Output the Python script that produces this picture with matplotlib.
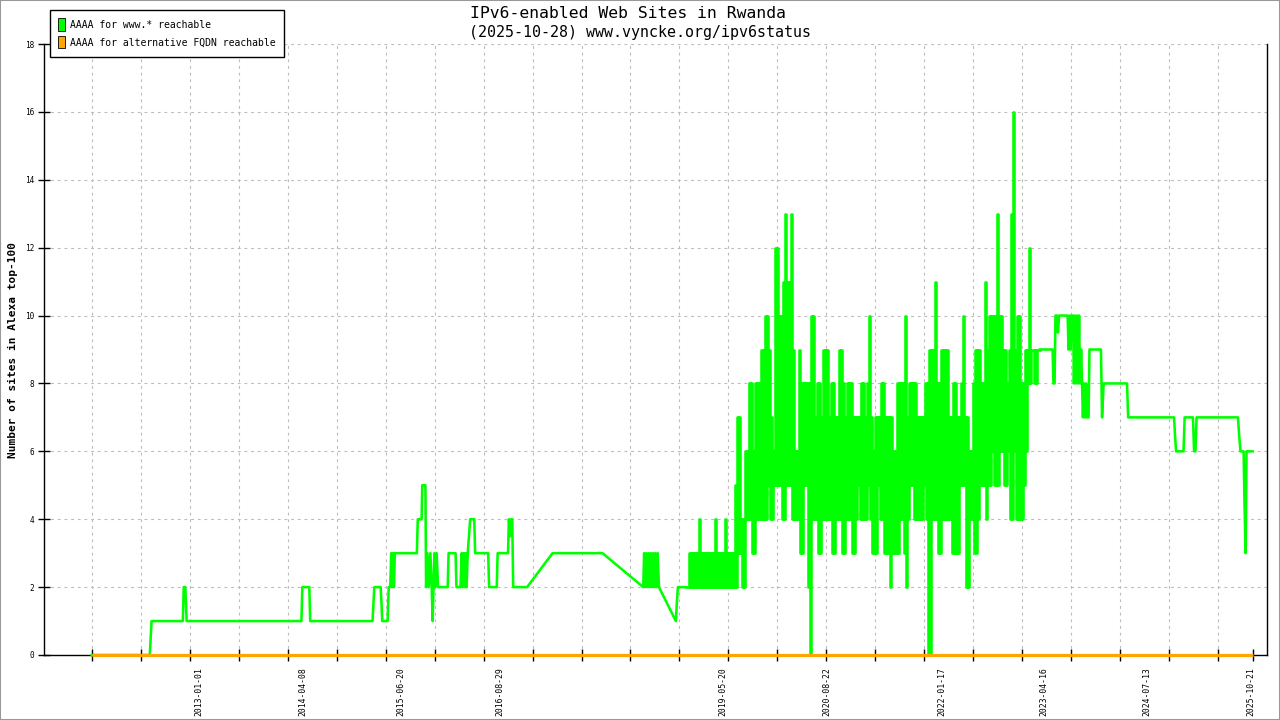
import matplotlib
matplotlib.use("Agg")
import matplotlib.pyplot as plt
import matplotlib.patches as mpatches
import pandas as pd
import numpy as np

plt.rcParams['font.family'] = ['DejaVu Sans Mono']

TITLE1 = "IPv6-enabled Web Sites in Rwanda"
TITLE2 = "(2025-10-28) www.vyncke.org/ipv6status"
YLABEL = "Number of sites in Alexa top-100"
LEGEND_LABELS = ["AAAA for www.* reachable", "AAAA for alternative FQDN reachable"]

# --- green series, early sparse part (date, value)
early_dates = ["2011-09-13", "2012-05-28", "2012-06-01", "2012-06-05", "2012-10-22", "2012-10-26",
               "2012-11-02", "2012-11-05", "2012-11-08", "2014-04-02", "2014-04-06", "2014-05-07",
               "2014-05-11", "2015-02-12", "2015-02-16", "2015-02-20", "2015-03-20", "2015-03-24",
               "2015-03-27", "2015-04-20", "2015-04-25", "2015-05-02", "2015-05-06", "2015-05-10",
               "2015-05-14", "2015-05-18", "2015-05-22", "2015-08-28", "2015-09-01", "2015-09-18",
               "2015-09-21", "2015-10-05", "2015-10-08", "2015-10-14", "2015-10-20", "2015-10-27",
               "2015-11-02", "2015-11-06", "2015-11-10", "2015-11-14", "2015-11-18", "2015-11-24",
               "2015-11-30", "2016-01-12", "2016-01-16", "2016-02-16", "2016-02-20", "2016-03-09",
               "2016-03-14", "2016-03-18", "2016-03-23", "2016-03-27", "2016-04-01", "2016-04-05",
               "2016-04-10", "2016-04-21", "2016-05-09", "2016-05-13", "2016-07-10", "2016-07-14",
               "2016-08-17", "2016-08-21", "2016-10-06", "2016-10-10", "2016-10-16", "2016-10-20",
               "2016-10-25", "2016-10-29", "2016-12-30", "2017-04-22", "2017-11-30", "2018-05-30",
               "2018-06-03", "2018-06-08", "2018-06-13", "2018-06-18", "2018-06-23", "2018-06-28",
               "2018-07-03", "2018-07-08", "2018-07-13", "2018-07-18", "2018-07-23", "2018-07-28",
               "2018-08-02", "2018-08-08", "2018-10-22", "2018-10-26", "2018-10-31", "2018-12-06"]
early_values = [0, 0, 0.5, 1, 1, 2,
                2, 1.5, 1, 1, 2, 2,
                1, 1, 1.5, 2, 2, 1.5,
                1, 1, 2, 2, 3, 2,
                3, 2, 3, 3, 4, 4,
                5, 5, 2, 3, 2, 3,
                2, 1, 2, 3, 2, 3,
                2, 2, 3, 3, 2, 2,
                3, 2, 3, 2, 3, 2,
                3, 4, 4, 3, 3, 2,
                2, 3, 3, 4, 3.5, 4,
                4, 2, 2, 3, 3, 2,
                3, 2, 3, 2, 3, 2,
                3, 2, 3, 2, 3, 2,
                3, 2, 1, 1.5, 2, 2]

# --- green series, dense part: daily values swing between a low and a high in
#     each sample period (samples from a start date at a fixed spacing)
dense_start = "2018-12-15"
dense_step_hours = 213
dense_low = [2, 2, 2, 2, 2, 2, 2, 2, 2, 2, 2, 2, 2, 2, 2, 2, 2, 2, 2, 2, 2, 2, 2,
             2, 2, 3, 3, 2, 2, 4, 4, 4, 3, 3, 4, 4, 4, 4, 4, 4, 5, 4, 4, 5, 5, 5, 5, 4, 4, 5,
             5, 5, 4, 4, 4, 4, 3, 3, 5, 5, 2, 0, 4, 4, 4, 3, 3, 4, 4, 4, 4, 4, 3, 3, 4, 4,
             4, 3, 3, 4, 4, 4, 3, 3, 4, 5, 4, 4, 4, 4, 5, 4, 3, 3, 3, 5, 4, 4, 3, 3,
             3, 2, 3, 3, 3, 3, 4, 4, 3, 2, 4, 5, 5, 4, 4, 4, 4, 4, 5, 4,
             0, 0, 4, 4, 4, 3, 3, 4, 4, 4, 4, 4, 3, 3, 3, 3, 5, 5, 5, 2,
             2, 4, 4, 3, 3, 4, 5, 5, 5, 4,
             5, 5, 6, 5, 5, 5, 6, 6, 5, 5, 6, 4, 4, 6, 4, 4, 4, 4, 5, 6,
             8, 8, 9, 8, 8, 9]
dense_high = [3, 3, 3, 3, 3, 4, 3, 3, 3, 3, 3, 3, 3, 4, 3, 3, 3, 3, 4, 3, 3, 3, 3,
              5, 7, 7, 4, 4, 6, 6, 8, 8, 6, 8, 8, 8, 9, 9, 10, 10, 9, 7, 6, 12, 12, 10, 10, 11, 13, 11,
              11, 13, 9, 6, 6, 9, 8, 8, 8, 8, 8, 10, 10, 7, 8, 8, 7, 9, 9, 9, 7, 8, 8, 7, 7, 9,
              9, 8, 7, 8, 8, 8, 7, 7, 7, 7, 8, 8, 7, 8, 10, 7, 6, 7, 7, 7, 8, 8, 7, 7,
              7, 7, 6, 6, 8, 8, 8, 8, 10, 7, 8, 8, 8, 8, 7, 7, 7, 7, 8, 8,
              9, 9, 9, 11, 8, 8, 9, 9, 9, 9, 7, 7, 8, 8, 7, 7, 8, 10, 7, 7,
              6, 6, 8, 9, 9, 9, 8, 8, 11, 9,
              10, 10, 10, 10, 13, 10, 10, 9, 9, 8, 9, 13, 16, 9, 10, 10, 8, 8, 9, 9,
              12, 9, 9, 9, 9, 9]

# --- green series, late sparse part
late_dates = ["2023-03-28", "2023-05-23", "2023-05-27", "2023-06-01", "2023-06-05", "2023-06-12",
              "2023-06-16", "2023-06-21", "2023-07-29", "2023-08-02", "2023-08-07", "2023-08-11",
              "2023-08-15", "2023-08-22", "2023-08-26", "2023-08-31", "2023-09-04", "2023-09-09",
              "2023-09-13", "2023-09-18", "2023-09-22", "2023-09-27", "2023-10-01", "2023-10-05",
              "2023-10-10", "2023-10-14", "2023-10-19", "2023-10-23", "2023-10-30", "2023-11-03",
              "2023-12-24", "2023-12-29", "2024-01-05", "2024-04-18", "2024-04-23", "2024-11-13",
              "2024-11-17", "2024-11-22", "2024-12-25", "2024-12-30", "2025-02-05", "2025-02-10",
              "2025-02-16", "2025-02-21", "2025-08-24", "2025-08-29", "2025-09-04", "2025-09-18",
              "2025-09-22", "2025-09-27", "2025-10-01", "2025-10-28"]
late_values = [9, 9, 8, 8, 10, 10,
               9.5, 10, 10, 9, 10, 9,
               10, 10, 8, 10, 8, 10,
               8, 10, 8, 9, 8, 7,
               8, 7, 8, 7, 7, 9,
               9, 7, 8, 8, 7, 7,
               6.5, 6, 6, 7, 7, 6,
               6, 7, 7, 6.5, 6, 6,
               4.5, 3, 6, 6]

# --- orange series
alt_dates = ["2011-09-13", "2025-10-28"]
alt_values = [0, 0]

# --- x axis labels
label_dates = ["2013-01-01", "2014-04-08", "2015-06-20", "2016-08-29", "2019-05-20",
               "2020-08-22", "2022-01-17", "2023-04-16", "2024-07-13", "2025-10-21"]
y_ticks = [0, 2, 4, 6, 8, 10, 12, 14, 16, 18]

GREEN = "#00ff00"
ORANGE = "#ffa500"

W, H = 1280, 720
fig = plt.figure(figsize=(W / 100, H / 100), dpi=100)
ax = fig.add_axes([44 / W, 65 / H, 1223 / W, 611 / H])

e_dates = pd.to_datetime(early_dates)
l_dates = pd.to_datetime(late_dates)
n = len(dense_low)
d_start = pd.date_range(dense_start, periods=n, freq=f"{dense_step_hours}h")
d_half = d_start + pd.Timedelta(hours=dense_step_hours / 2)
d_x = np.column_stack([d_start.values, d_half.values]).ravel()
d_y = np.column_stack([dense_low, dense_high]).ravel().astype(float)

LW = 1.85
ax.plot(e_dates, early_values, color=GREEN, lw=LW, zorder=3, clip_on=False)
dx = np.concatenate([e_dates[-1:].values, d_x, l_dates[:1].values])
dy = np.concatenate([early_values[-1:], d_y, late_values[:1]]).astype(float)
ax.plot(dx, dy, color=GREEN, lw=LW, drawstyle='steps-post', zorder=3, clip_on=False)
ax.plot(l_dates, late_values, color=GREEN, lw=LW, zorder=3, clip_on=False)

ax.plot(pd.to_datetime(alt_dates), alt_values, color=ORANGE, lw=2.3, zorder=4,
        solid_capstyle='butt', clip_on=False)

ax.set_ylim(0, 18)
ax.set_xlim(pd.Timestamp("2011-02-13"), pd.Timestamp("2025-12-31"))

# regular major ticks
tick_pos = pd.date_range("2011-09-13", periods=24, freq="5224h")
major = list(tick_pos) + [pd.Timestamp("2025-10-28")]
ax.set_xticks(major)
ax.set_xticklabels([""] * len(major))
ax.tick_params(axis='x', which='major', direction='inout', length=8, width=1, color='black')
ax.set_xticks(pd.to_datetime(label_dates), minor=True)
ax.set_xticklabels(label_dates, minor=True, rotation=90, fontsize=5.9)
ax.tick_params(axis='x', which='minor', length=0, pad=9)

ax.set_yticks(y_ticks)
ax.set_yticklabels([str(v) for v in y_ticks], fontsize=5.6)
ax.tick_params(axis='y', direction='inout', length=8, width=1, pad=3)

# grid
for t in tick_pos:
    ax.axvline(t, color='#bbbbbb', lw=0.8, ls=(0, (2.5, 3.5)), zorder=1)
for v in y_ticks:
    ax.axhline(v, color='#bbbbbb', lw=0.8, ls=(0, (2.5, 3.5)), zorder=1)

for s in ['left', 'bottom', 'right']:
    ax.spines[s].set_color('black')
    ax.spines[s].set_linewidth(1.0)
ax.spines['top'].set_visible(False)

ax.set_ylabel(YLABEL, fontsize=8, fontweight='bold')
ax.yaxis.set_label_coords(-26 / 1223, 0.5)

fig.text(628 / W, 1 - 14 / H, TITLE1, ha='center', va='center', fontsize=11.8)
fig.text(0.5, 1 - 32 / H, TITLE2, ha='center', va='center', fontsize=10.85)

handles = [mpatches.Patch(facecolor=GREEN, edgecolor='black', lw=0.6),
           mpatches.Patch(facecolor=ORANGE, edgecolor='black', lw=0.6)]
leg = fig.legend(handles, LEGEND_LABELS, loc='upper left',
                 bbox_to_anchor=(50 / W, 1 - 10 / H), fontsize=7.05,
                 handlelength=0.7, handleheight=1.55, handletextpad=0.5,
                 labelspacing=0.55, borderpad=0.85, borderaxespad=0,
                 fancybox=False, framealpha=1, edgecolor='black')
leg.get_frame().set_linewidth(1.0)

fig.patches.append(mpatches.Rectangle((0, 0), 1, 1, transform=fig.transFigure,
                                      fill=False, edgecolor='#999999', lw=1.5))

fig.savefig("out.png", dpi=100)
